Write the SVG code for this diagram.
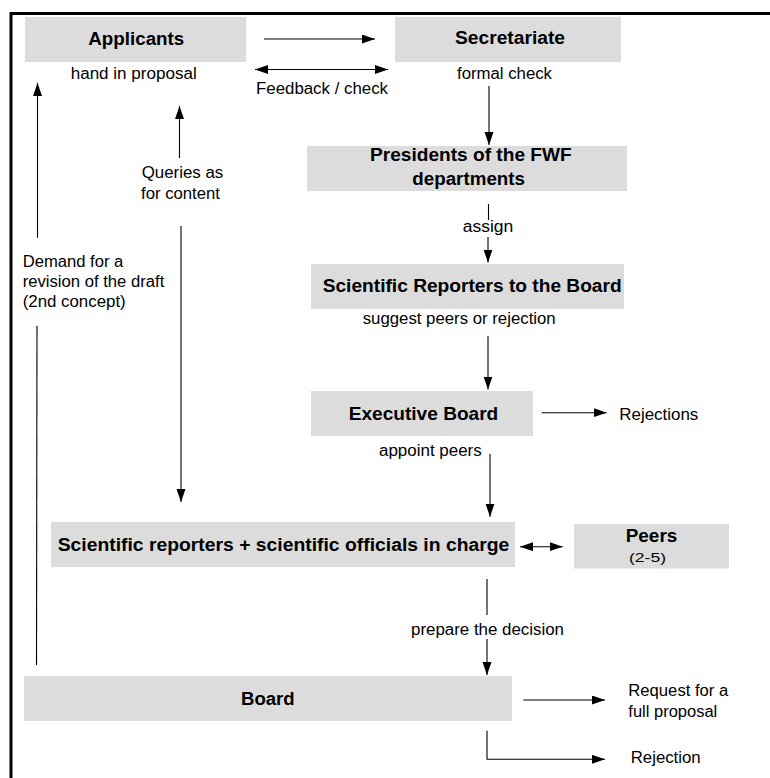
<svg xmlns="http://www.w3.org/2000/svg" width="770" height="778" viewBox="0 0 770 778">
<style>
.box{fill:#dcdcdc;stroke:none}
.b{font-family:"Liberation Sans",Arial,sans-serif;font-weight:bold;font-size:18px;fill:#000}
.r{font-family:"Liberation Sans",Arial,sans-serif;font-size:16px;fill:#000}
.s{font-family:"Liberation Sans",Arial,sans-serif;font-size:12.5px;fill:#000}
.ln{fill:none;stroke:#000;stroke-width:1.1}
</style>
<defs>
<marker id="ah" markerUnits="userSpaceOnUse" markerWidth="14" markerHeight="10" refX="13" refY="4.5" orient="auto-start-reverse">
<path d="M0,0 L13,4.5 L0,9 z" fill="#000"/>
</marker>
</defs>
<rect width="770" height="778" fill="#fff"/>
<path d="M11,778 V13.5 H770" fill="none" stroke="#000" stroke-width="3"/>

<g id="applicants">
<rect class="box" x="25" y="17" width="221" height="45"/>
<text class="b" x="88.3" y="45" textLength="96" lengthAdjust="spacingAndGlyphs">Applicants</text>
<text class="r" x="70.7" y="79" textLength="126" lengthAdjust="spacingAndGlyphs">hand in proposal</text>
</g>
<g id="secretariate">
<rect class="box" x="395" y="17" width="226" height="45"/>
<text class="b" x="455" y="44" textLength="110" lengthAdjust="spacingAndGlyphs">Secretariate</text>
<text class="r" x="457" y="79" textLength="95" lengthAdjust="spacingAndGlyphs">formal check</text>
</g>
<g id="presidents">
<rect class="box" x="307" y="146" width="320" height="45"/>
<text class="b" x="370" y="160.7" textLength="201.7" lengthAdjust="spacingAndGlyphs">Presidents of the FWF</text>
<text class="b" x="412.3" y="185" textLength="112.7" lengthAdjust="spacingAndGlyphs">departments</text>
</g>
<g id="sci-reporters">
<rect class="box" x="311" y="264" width="313" height="45"/>
<text class="b" x="322.7" y="292" textLength="299" lengthAdjust="spacingAndGlyphs">Scientific Reporters to the Board</text>
<text class="r" x="362.7" y="324" textLength="193" lengthAdjust="spacingAndGlyphs">suggest peers or rejection</text>
</g>
<g id="executive">
<rect class="box" x="311" y="391" width="222" height="45"/>
<text class="b" x="348.7" y="420" textLength="149.6" lengthAdjust="spacingAndGlyphs">Executive Board</text>
<text class="r" x="379" y="456" textLength="102.7" lengthAdjust="spacingAndGlyphs">appoint peers</text>
</g>
<g id="rejections">
<text class="r" x="619.3" y="420" textLength="79" lengthAdjust="spacingAndGlyphs">Rejections</text>
</g>
<g id="officials">
<rect class="box" x="51" y="522" width="464" height="45"/>
<text class="b" x="57.7" y="550.7" textLength="451.6" lengthAdjust="spacingAndGlyphs">Scientific reporters + scientific officials in charge</text>
</g>
<g id="peers">
<rect class="box" x="574" y="524" width="155" height="44.5"/>
<text class="b" x="625.7" y="541.7" textLength="51.6" lengthAdjust="spacingAndGlyphs">Peers</text>
<text class="s" x="629" y="561.7" textLength="37" lengthAdjust="spacingAndGlyphs">(2-5)</text>
</g>
<g id="board">
<rect class="box" x="24" y="676" width="488" height="45"/>
<text class="b" x="241" y="705" textLength="53.7" lengthAdjust="spacingAndGlyphs">Board</text>
</g>
<g id="request">
<text class="r" x="628.3" y="696" textLength="100" lengthAdjust="spacingAndGlyphs">Request for a</text>
<text class="r" x="628.3" y="717.3" textLength="89" lengthAdjust="spacingAndGlyphs">full proposal</text>
</g>
<g id="rejection">
<text class="r" x="630.7" y="763.3" textLength="70" lengthAdjust="spacingAndGlyphs">Rejection</text>
</g>

<g id="connectors">
<line class="ln" x1="264" y1="39" x2="375" y2="39" marker-end="url(#ah)"/>
<line class="ln" x1="255" y1="69.5" x2="388" y2="69.5" marker-start="url(#ah)" marker-end="url(#ah)"/>
<text class="r" x="256" y="94" textLength="132" lengthAdjust="spacingAndGlyphs">Feedback / check</text>
<line class="ln" x1="489" y1="86" x2="489" y2="145" marker-end="url(#ah)"/>
<line class="ln" x1="488.5" y1="204" x2="488.5" y2="220"/>
<text class="r" x="462.7" y="232" textLength="50.6" lengthAdjust="spacingAndGlyphs">assign</text>
<line class="ln" x1="488" y1="237" x2="488" y2="262.5" marker-end="url(#ah)"/>
<line class="ln" x1="488" y1="336" x2="488" y2="389.5" marker-end="url(#ah)"/>
<line class="ln" x1="541.7" y1="412.7" x2="606.7" y2="412.7" marker-end="url(#ah)"/>
<line class="ln" x1="490" y1="454" x2="490" y2="516.7" marker-end="url(#ah)"/>
<line class="ln" x1="520" y1="546.7" x2="562.7" y2="546.7" marker-start="url(#ah)" marker-end="url(#ah)"/>
<line class="ln" x1="487" y1="579" x2="487" y2="615"/>
<text class="r" x="411" y="635" textLength="153" lengthAdjust="spacingAndGlyphs">prepare the decision</text>
<line class="ln" x1="487" y1="639" x2="487" y2="675" marker-end="url(#ah)"/>
<line class="ln" x1="523.3" y1="700" x2="605" y2="700" marker-end="url(#ah)"/>
<path class="ln" d="M487,730.7 V759.3 H605" marker-end="url(#ah)"/>
<line class="ln" x1="37.5" y1="237.7" x2="37.5" y2="83" marker-end="url(#ah)"/>
<text class="r" x="22.7" y="266.5" textLength="100.6" lengthAdjust="spacingAndGlyphs">Demand for a</text>
<text class="r" x="22.7" y="286.5" textLength="141.6" lengthAdjust="spacingAndGlyphs">revision of the draft</text>
<text class="r" x="22.7" y="306.5" textLength="103" lengthAdjust="spacingAndGlyphs">(2nd concept)</text>
<line class="ln" x1="37" y1="325.7" x2="36.5" y2="665"/>
<line class="ln" x1="179.5" y1="158" x2="179.5" y2="106" marker-end="url(#ah)"/>
<text class="r" x="141.7" y="178" textLength="81.6" lengthAdjust="spacingAndGlyphs">Queries as</text>
<text class="r" x="141" y="199.3" textLength="79" lengthAdjust="spacingAndGlyphs">for content</text>
<line class="ln" x1="181" y1="226" x2="181" y2="502" marker-end="url(#ah)"/>
</g>
</svg>
